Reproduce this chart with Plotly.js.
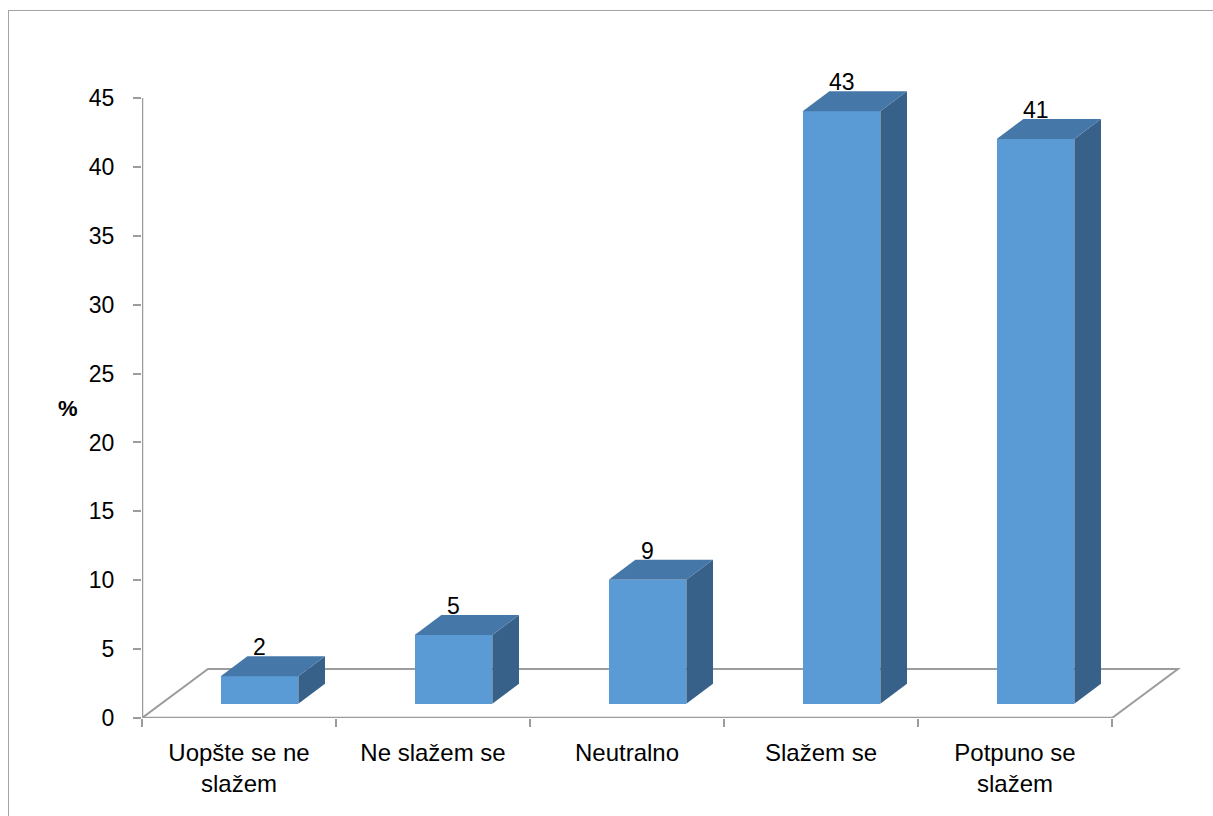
<!DOCTYPE html>
<html>
<head>
<meta charset="utf-8">
<script src="https://cdn.plot.ly/plotly-3.0.1.min.js"></script>
<style>
html,body{margin:0;padding:0;overflow:hidden;background:#fff;}
#wrap{position:relative;width:1213px;height:816px;overflow:hidden;}
#chart{width:1213px;height:816px;}
#frame{position:absolute;left:8px;top:10px;width:1400px;height:1000px;border:1.5px solid #a3a3a3;pointer-events:none;box-sizing:border-box;}
</style>
</head>
<body>
<div id="wrap"><div id="chart"></div><div id="frame"></div></div>
<script>
// ---- data ----
const categories = ["Uopšte se ne<br>slažem", "Ne slažem se", "Neutralno", "Slažem se", "Potpuno se<br>slažem"];
const values = [2, 5, 9, 43, 41];
const yTicks = [0, 5, 10, 15, 20, 25, 30, 35, 40, 45];

// ---- pseudo-3D geometry (in axis units) ----
const n = categories.length;
const floorDX = 0.340, floorDY = 3.556;   // floor depth
const frontOff = 0.1057;                  // bar front centre offset
const barW = 0.40;                        // bar width
const base = 1.03;                        // bar base above front edge
const ddx = 0.1376, ddy = 1.452;          // bar depth
const cFront = '#5b9bd5', cTop = '#4577a8', cSide = '#386189', cLine = '#9c9c9c';

const traces = [];
const xc = values.map((v, i) => i + frontOff);
// front faces
traces.push({
  type: 'bar', x: xc, y: values, base: values.map(() => base), width: barW,
  marker: {color: cFront, line: {width: 0}}, hoverinfo: 'skip', showlegend: false
});
values.forEach((v, i) => {
  const xl = xc[i] - barW / 2, xr = xc[i] + barW / 2, yb = base, yt = base + v;
  // side face
  traces.push({type: 'scatter', mode: 'lines', fill: 'toself', fillcolor: cSide,
    line: {width: 0, color: cSide}, hoverinfo: 'skip', showlegend: false,
    x: [xr, xr, xr + ddx, xr + ddx, xr], y: [yb, yt, yt + ddy, yb + ddy, yb]});
  // top face
  traces.push({type: 'scatter', mode: 'lines', fill: 'toself', fillcolor: cTop,
    line: {width: 0, color: cTop}, hoverinfo: 'skip', showlegend: false,
    x: [xl, xr, xr + ddx, xl + ddx, xl], y: [yt, yt, yt + ddy, yt + ddy, yt]});
});

const x0 = -0.5, x1 = n - 0.5;
const shapes = [
  // floor
  {type: 'path', layer: 'below', xref: 'x', yref: 'y',
   path: `M${x0},0 L${x0 + floorDX},${floorDY} L${x1 + floorDX},${floorDY} L${x1},0`,
   line: {color: cLine, width: 2}, fillcolor: 'rgba(0,0,0,0)'},
  // front edge (category axis)
  {type: 'line', layer: 'below', xref: 'x', yref: 'y', x0: x0, x1: x1, y0: 0, y1: 0,
   line: {color: cLine, width: 2.5}},
  // value axis
  {type: 'line', layer: 'below', xref: 'x', yref: 'y', x0: x0, x1: x0, y0: 0, y1: yTicks[yTicks.length - 1],
   line: {color: cLine, width: 2.5}}
];

const annotations = values.map((v, i) => ({
  x: xc[i], y: base + v + ddy, xref: 'x', yref: 'y', text: String(v),
  showarrow: false, yanchor: 'bottom', xanchor: 'center', yshift: -6,
  font: {family: 'Liberation Sans, Arial, sans-serif', size: 23, color: '#000'}
}));
annotations.push({xref: 'paper', yref: 'y', x: 0, y: 22.5, xshift: -74, xanchor: 'center', yanchor: 'middle',
  text: '<b>%</b>', showarrow: false, font: {family: 'Liberation Sans, Arial, sans-serif', size: 22, color: '#000'}});

const pxPerX = 194;
const plotW = 1213 - 142 - 28;
const layout = {
  width: 1213, height: 816,
  margin: {l: 142, r: 28, t: 70, b: 98, pad: 0},
  paper_bgcolor: '#fff', plot_bgcolor: 'rgba(0,0,0,0)',
  showlegend: false,
  font: {family: 'Liberation Sans, Arial, sans-serif', size: 23, color: '#000'},
  xaxis: {range: [x0, x0 + plotW / pxPerX], showgrid: false, zeroline: false, showline: false,
    tickmode: 'array', tickvals: categories.map((c, i) => i), ticktext: categories, ticks: '',
    tickfont: {family: 'Liberation Sans, Arial, sans-serif', size: 24, color: '#000'},
    minor: {tickmode: 'array', tickvals: Array.from({length: n + 1}, (_, i) => i - 0.5),
      ticks: 'outside', ticklen: 8, tickwidth: 2, tickcolor: cLine, showgrid: false},
    ticklabelstandoff: 18, fixedrange: true},
  yaxis: {range: [0, 648 / (620 / 45)], showgrid: false, zeroline: false, showline: false,
    tickmode: 'array', tickvals: yTicks, ticks: 'outside', ticklen: 8, tickwidth: 2, tickcolor: cLine,
    ticklabelstandoff: 14, fixedrange: true},
  shapes: shapes, annotations: annotations, bargap: 0
};
Plotly.newPlot('chart', traces, layout, {staticPlot: true, displayModeBar: false});
</script>
</body>
</html>
